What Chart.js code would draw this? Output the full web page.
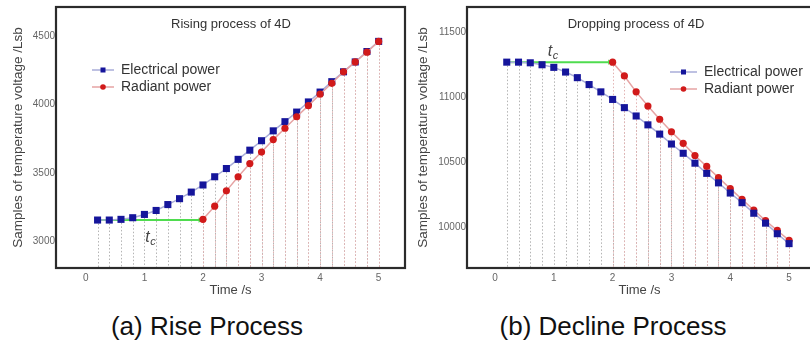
<!DOCTYPE html>
<html>
<head>
<meta charset="utf-8">
<script src="https://cdn.jsdelivr.net/npm/chart.js@4.4.0/dist/chart.umd.min.js"></script>
<style>
  html, body { margin: 0; padding: 0; background: #fff; overflow: hidden; width: 810px; height: 354px; }
  #wrapA { position: absolute; left: 0; top: 0; width: 410px; height: 300px; }
  #wrapB { position: absolute; left: 400px; top: 0; width: 420px; height: 300px; }
  .cap { position: absolute; top: 311px; font-family: Arial, 'Liberation Sans', sans-serif; font-size: 26px;
         color: #111; white-space: nowrap; transform: translateX(-50%); }
</style>
</head>
<body>
<div id="wrapA"><canvas id="rise"></canvas></div>
<div id="wrapB"><canvas id="drop"></canvas></div>
<div class="cap" style="left:207px">(a) Rise Process</div>
<div class="cap" style="left:613px">(b) Decline Process</div>
<script>
'use strict';

// sample times (s)
const times = [0.2, 0.4, 0.6, 0.8, 1.0, 1.2, 1.4, 1.6, 1.8, 2.0, 2.2, 2.4, 2.6,
               2.8, 3.0, 3.2, 3.4, 3.6, 3.8, 4.0, 4.2, 4.4, 4.6, 4.8, 5.0];
const radiantTimes = [2.0, 2.2, 2.4, 2.6, 2.8, 3.0, 3.2, 3.4, 3.6, 3.8, 4.0,
                      4.2, 4.4, 4.6, 4.8, 5.0];
const xTicks = [0, 1, 2, 3, 4, 5];

// (a) rising process
const riseElectrical = [3155, 3155, 3160, 3172, 3196, 3225, 3268, 3311, 3359, 3411, 3471, 3531, 3598,
                        3665, 3734, 3806, 3873, 3943, 4017, 4089, 4165, 4237, 4309, 4385, 4459];
const riseRadiant = [3160, 3256, 3368, 3471, 3567, 3651, 3742, 3825, 3909, 3990, 4074,
                     4153, 4237, 4309, 4380, 4459];
const riseDelayTimes = [0.2, 1.95];
const riseDelay = [3155, 3155];
const riseYTicks = [3000, 3500, 4000, 4500];

// (b) dropping process
const dropElectrical = [11267, 11267, 11262, 11247, 11227, 11191, 11148, 11095, 11039, 10981, 10918, 10854, 10786,
                        10715, 10639, 10568, 10492, 10414, 10341, 10263, 10189, 10108, 10032, 9951, 9875];
const dropRadiant = [11267, 11161, 11039, 10930, 10829, 10733, 10644, 10551, 10467, 10381, 10297,
                     10214, 10133, 10051, 9976, 9900];
const dropDelayTimes = [0.2, 1.95];
const dropDelay = [11267, 11267];
const dropYTicks = [10000, 10500, 11000, 11500];

const FONT = "Arial, 'Liberation Sans', sans-serif";
const toXY = (xs, ys) => xs.map((x, i) => ({x: x, y: ys[i]}));

// dotted drop lines from every sample down to the axis
const dropLines = {
  id: 'dropLines',
  beforeDatasetsDraw(chart) {
    const {ctx, chartArea} = chart;
    ctx.save();
    ctx.lineWidth = 1;
    ctx.setLineDash([1.5, 2]);
    chart.data.datasets.forEach((ds, i) => {
      if (!ds.dropColor) return;
      ctx.strokeStyle = ds.dropColor;
      chart.getDatasetMeta(i).data.forEach(pt => {
        const x = Math.round(pt.x) + 0.5;
        ctx.beginPath();
        ctx.moveTo(x, pt.y);
        ctx.lineTo(x, chartArea.bottom);
        ctx.stroke();
      });
    });
    ctx.restore();
  }
};

// frame, inner title, t_c label and the legend
const decor = {
  id: 'decor',
  afterDraw(chart, args, opts) {
    const {ctx, chartArea, scales} = chart;
    ctx.save();
    ctx.strokeStyle = '#2b2b2b';
    ctx.lineWidth = 2.2;
    ctx.strokeRect(chartArea.left, chartArea.top, chartArea.right - chartArea.left, chartArea.bottom - chartArea.top);

    ctx.fillStyle = '#333';
    ctx.font = '13px ' + FONT;
    ctx.textAlign = 'center';
    ctx.textBaseline = 'middle';
    ctx.fillText(opts.title, opts.titleX, opts.titleY);

    // t_c
    const tx = scales.x.getPixelForValue(opts.tc[0]);
    const ty = scales.y.getPixelForValue(opts.tc[1]);
    ctx.textAlign = 'left';
    ctx.font = 'italic 16px ' + FONT;
    ctx.fillStyle = '#444';
    ctx.fillText('t', tx - 5, ty);
    ctx.font = 'italic 11px ' + FONT;
    ctx.fillText('c', tx, ty + 5);

    // legend: line + marker + label
    const items = chart.data.datasets.filter(d => d.legend);
    items.sort((a, b) => a.legend - b.legend);
    items.forEach((ds, i) => {
      const y = opts.legendY + i * 17;
      const x0 = opts.legendX;
      const mx = x0 + opts.sampleLen / 2;
      ctx.strokeStyle = ds.borderColor;
      ctx.lineWidth = 1.5;
      ctx.beginPath();
      ctx.moveTo(x0, y);
      ctx.lineTo(x0 + opts.sampleLen, y);
      ctx.stroke();
      ctx.fillStyle = ds.pointBackgroundColor;
      if (ds.pointStyle === 'rect') {
        ctx.fillRect(mx - 2.5, y - 2.5, 5, 5);
      } else {
        ctx.beginPath();
        ctx.arc(mx, y, 2.8, 0, Math.PI * 2);
        ctx.fill();
      }
      ctx.fillStyle = '#333';
      ctx.font = '14px ' + FONT;
      ctx.fillText(ds.label, x0 + opts.sampleLen + 7, y);
    });
    ctx.restore();
  }
};

function makeChart(id, cfg) {
  const ctx = document.getElementById(id).getContext('2d');
  return new Chart(ctx, {
    type: 'line',
    data: {
      datasets: [
        {
          label: 'Electrical power', legend: 1,
          data: toXY(times, cfg.electrical),
          borderColor: '#a9add9', borderWidth: 1.5,
          pointStyle: 'rect', pointRadius: 5, pointBorderWidth: 0,
          pointBackgroundColor: '#15159b', pointBorderColor: '#15159b',
          dropColor: '#b4b4b4', order: cfg.electricalOrder
        },
        {
          label: 'Radiant power', legend: 2,
          data: toXY(radiantTimes, cfg.radiant),
          borderColor: '#e6a3a3', borderWidth: 1.5,
          pointStyle: 'circle', pointRadius: 3.6, pointBorderWidth: 0,
          pointBackgroundColor: '#d11a1a', pointBorderColor: '#d11a1a',
          dropColor: '#e2b2b2', order: cfg.radiantOrder
        },
        {
          label: 'delay',
          data: toXY(cfg.delayTimes, cfg.delay),
          borderColor: '#4fdc4f', borderWidth: 2,
          pointStyle: 'triangle', pointRotation: 90,
          pointRadius: [0, 3], pointBackgroundColor: '#4fdc4f', pointBorderWidth: 0,
          order: 5
        }
      ]
    },
    options: {
      animation: false,
      responsive: true,
      maintainAspectRatio: false,
      layout: {padding: {left: 0, top: 5, right: cfg.padRight, bottom: 0}},
      plugins: {
        legend: {display: false},
        tooltip: {enabled: false},
        decor: cfg.decor
      },
      scales: {
        x: {
          type: 'linear', min: cfg.xMin, max: cfg.xMax,
          afterBuildTicks: s => { s.ticks = xTicks.map(v => ({value: v})); },
          afterFit: s => { s.height = 32; },
          grid: {display: false, drawTicks: false},
          border: {display: false},
          ticks: {color: '#666', font: {family: FONT, size: 10}, padding: 4, callback: v => String(v)},
          title: {display: true, text: 'Time /s', color: '#444', font: {family: FONT, size: 13},
                  padding: {top: 0, bottom: 2}}
        },
        y: {
          type: 'linear', min: cfg.yMin, max: cfg.yMax,
          afterBuildTicks: s => { s.ticks = cfg.yTicks.map(v => ({value: v})); },
          afterFit: s => { s.width = cfg.yWidth; },
          grid: {display: false, drawTicks: false},
          border: {display: false},
          ticks: {color: '#666', font: {family: FONT, size: 10}, padding: 1, callback: v => String(v)},
          title: {display: true, text: 'Samples of temperature voltage /Lsb', color: '#444',
                  font: {family: FONT, size: 13.5}, padding: {top: cfg.yTitlePad, bottom: 0}}
        }
      }
    },
    plugins: [dropLines, decor]
  });
}

makeChart('rise', {
  electrical: riseElectrical, radiant: riseRadiant,
  delayTimes: riseDelayTimes, delay: riseDelay,
  electricalOrder: 2, radiantOrder: 1,
  xMin: -0.51, xMax: 5.45, yMin: 2805, yMax: 4710, yTicks: riseYTicks,
  yWidth: 56, yTitlePad: 10, padRight: 5,
  decor: {title: 'Rising process of 4D', titleX: 231, titleY: 24, tc: [1.1, 3030],
          legendX: 92, legendY: 70, sampleLen: 22}
});

makeChart('drop', {
  electrical: dropElectrical, radiant: dropRadiant,
  delayTimes: dropDelayTimes, delay: dropDelay,
  electricalOrder: 1, radiantOrder: 2,
  xMin: -0.476, xMax: 5.39, yMin: 9688, yMax: 11690, yTicks: dropYTicks,
  yWidth: 67, yTitlePad: 15, padRight: 8,
  decor: {title: 'Dropping process of 4D', titleX: 236, titleY: 24, tc: [0.98, 11350],
          legendX: 270, legendY: 72, sampleLen: 27}
});
</script>
</body>
</html>
